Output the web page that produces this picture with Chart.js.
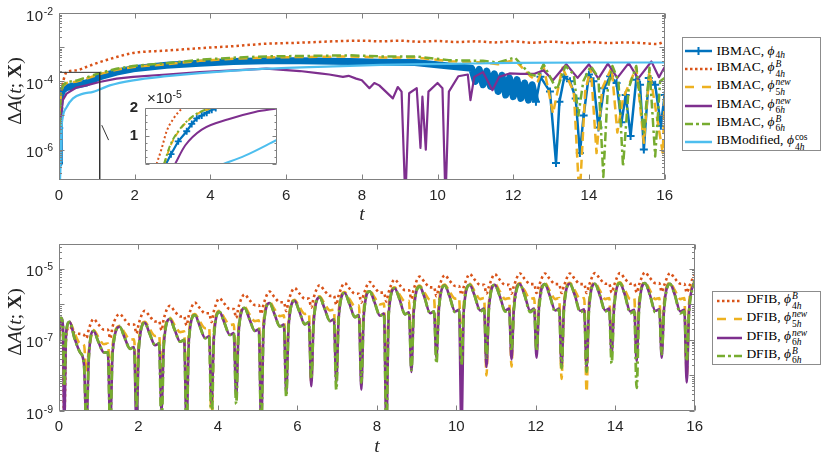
<!DOCTYPE html>
<html>
<head>
<meta charset="utf-8">
<script src="https://cdn.jsdelivr.net/npm/chart.js@4.4.1/dist/chart.umd.min.js"></script>
<style>
html,body{margin:0;padding:0;background:#fff;}
body{width:830px;height:459px;position:relative;overflow:hidden;}
canvas{position:absolute;}
.ylab{position:absolute;transform:translate(-50%,-50%) rotate(-90deg);font-family:"Liberation Serif","DejaVu Serif",serif;font-size:19.5px;white-space:nowrap;color:#262626;}
.xlab{position:absolute;transform:translate(-50%,-50%);font-family:"Liberation Serif","DejaVu Serif",serif;font-style:italic;font-size:19.5px;color:#262626;}
.leg{position:absolute;background:#fff;border:1px solid #8c8c8c;font-family:"Liberation Serif","DejaVu Serif",serif;font-size:13.5px;color:#000;box-sizing:border-box;}
.row{position:absolute;left:0;display:flex;align-items:center;white-space:nowrap;height:18px;}
.row svg{flex:none;margin-right:1px;}
.ss{display:inline-flex;flex-direction:column;font-size:9.5px;line-height:9.5px;vertical-align:4px;margin-left:1px;}
.s1{font-size:9.5px;vertical-align:-3px;margin-left:1px;}
.ytl{position:absolute;font-family:"Liberation Sans",Arial,sans-serif;font-size:15px;line-height:15px;color:#262626;white-space:nowrap;transform:translateX(-100%);letter-spacing:0.5px;}
.ytl sup{font-size:10.5px;position:relative;top:-1px;vertical-align:5px;line-height:0;letter-spacing:0;}
.exp{position:absolute;font-family:"Liberation Sans",Arial,sans-serif;font-size:15px;line-height:15px;color:#262626;white-space:nowrap;}
.exp sup{font-size:10.5px;vertical-align:5px;line-height:0;}
</style>
</head>
<body>
<canvas id="cTop" width="680" height="230" style="left:0;top:0"></canvas>
<canvas id="cBot" width="710" height="229" style="left:0;top:230px"></canvas>
<canvas id="cIns" width="185" height="90" style="left:100px;top:90px"></canvas>
<div class="exp" style="left:147px;top:90px">×10<sup>-5</sup></div>
<div class="ylab" style="left:15px;top:91px">Δ<i>A</i>(<i>t</i>; <b>X</b>)</div>
<div class="ylab" style="left:15px;top:322px">Δ<i>A</i>(<i>t</i>; <b>X</b>)</div>
<div class="xlab" style="left:362px;top:214px">t</div>
<div class="xlab" style="left:377px;top:446px">t</div>
<div id="legTop" class="leg" style="left:682px;top:37px;width:139px;height:114px"></div>
<div id="legBot" class="leg" style="left:712px;top:291px;width:109px;height:74px"></div>
<div id="ylabels"></div>
<script>
// ---------------- DATA: top panel (IBMAC / IBModified), pairs [t, value] ----------------
const ibmac4h = [[0,4.07e-7],[0.005,4.27e-6],[0.01,1.62e-5],[0.05,3.98e-5],[0.1,5.5e-5],[0.2,6.61e-5],[0.46,7.59e-5],[0.72,8.91e-5],[1.07,1.35e-4],[1.52,1.86e-4],[1.96,2.34e-4],[2.84,2.95e-4],[3.72,3.39e-4],[4.6,3.8e-4],[5.48,3.98e-4],[6.36,3.98e-4],[7.68,3.8e-4],[8.5,3.63e-4],[9.4,3.55e-4],[10.3,2.82e-4],[10.9,2.4e-4],[11.0,1.0e-4],[11.1,2.24e-4],[11.2,7.94e-5],[11.3,2.0e-4],[11.4,7.08e-5],[11.5,1.66e-4],[11.6,5.01e-5],[11.7,1.51e-4],[11.8,3.98e-5],[11.9,1.26e-4],[12.0,3.55e-5],[12.1,1.12e-4],[12.2,3.16e-5],[12.3,8.91e-5],[12.4,2.82e-5],[12.5,7.94e-5],[12.6,2.51e-5],[12.72,1.35e-4],[12.97,5.01e-5],[13.13,4.07e-7],[13.22,2.51e-5],[13.35,1.35e-4],[13.5,1.0e-4],[13.65,3.16e-5],[13.76,7.94e-7],[13.86,1.0e-5],[14.0,1.58e-4],[14.12,1.0e-4],[14.25,4.47e-6],[14.4,6.31e-5],[14.56,1.41e-4],[14.73,8.91e-5],[14.86,6.31e-6],[14.97,3.98e-5],[15.1,2.51e-6],[15.25,1.12e-4],[15.35,7.94e-5],[15.45,1.0e-6],[15.58,1.26e-4],[15.75,7.94e-5],[15.9,5.01e-6],[16.0,3.98e-5]];
const ibmac4hB = [[0,3.2e-8],[0.03,1.58e-5],[0.06,4.37e-5],[0.1,8.5e-5],[0.2,1.86e-4],[0.46,2.09e-4],[0.72,2.63e-4],[1.07,3.63e-4],[1.52,5.13e-4],[1.96,6.76e-4],[2.84,7.94e-4],[3.72,9.33e-4],[4.6,1.07e-3],[5.48,1.26e-3],[6.36,1.35e-3],[7.24,1.48e-3],[8,1.55e-3],[8.5,1.48e-3],[9,1.55e-3],[9.5,1.45e-3],[10,1.51e-3],[10.5,1.41e-3],[11,1.48e-3],[11.5,1.38e-3],[12,1.48e-3],[12.5,1.35e-3],[13,1.45e-3],[13.5,1.32e-3],[14,1.41e-3],[14.5,1.32e-3],[15,1.38e-3],[15.5,1.29e-3],[15.8,1.23e-3],[16,1.48e-3]];
const ibmac5hNew = [[0,3.2e-8],[0.02,8.9e-6],[0.05,4.68e-5],[0.1,7.1e-5],[0.2,8.9e-5],[0.46,9.8e-5],[0.72,1.2e-4],[1.07,1.62e-4],[1.52,2.19e-4],[1.96,2.63e-4],[2.84,3.16e-4],[3.72,3.98e-4],[4.6,4.57e-4],[5.48,5.0e-4],[6.36,5.13e-4],[7.7,5.37e-4],[8.5,5.0e-4],[9.4,5.0e-4],[10.3,3.89e-4],[11.2,3.55e-4],[11.6,3.16e-4],[12.04,4.27e-4],[12.45,1.41e-4],[12.65,1.0e-4],[12.8,2.82e-4],[13.05,1.15e-5],[13.3,2.5e-4],[13.6,5.0e-5],[13.75,3.2e-8],[13.9,5.0e-5],[14.05,2.5e-4],[14.2,7.9e-7],[14.35,6.3e-5],[14.6,2.5e-4],[14.75,3.16e-6],[14.9,3.16e-5],[15.25,2.5e-4],[15.45,1.58e-6],[15.6,2.0e-4],[15.95,7.9e-7],[16.0,3.16e-5]];
const ibmac6hNew = [[0,3.2e-8],[0.04,6.3e-6],[0.1,2.82e-5],[0.2,4.37e-5],[0.46,6.61e-5],[0.72,7.59e-5],[1.07,9.55e-5],[1.52,1.2e-4],[1.96,1.35e-4],[2.84,1.58e-4],[3.72,1.86e-4],[4.6,2.09e-4],[5.48,2.34e-4],[6.36,2.0e-4],[6.89,1.7e-4],[7.14,1.58e-4],[7.5,1.35e-4],[7.65,1.45e-4],[7.85,1.2e-4],[8.0,1.07e-4],[8.2,6.3e-5],[8.33,8.9e-5],[8.46,7.6e-5],[8.64,4.9e-5],[8.82,3.16e-5],[8.95,6.8e-5],[9.05,5.0e-5],[9.15,3.2e-8],[9.25,4.47e-5],[9.45,6.3e-5],[9.55,1.12e-6],[9.6,3.55e-5],[9.69,1.0e-6],[9.76,5.0e-5],[10.0,8.9e-5],[10.13,6.3e-5],[10.21,3.2e-8],[10.3,5.0e-5],[10.55,1.41e-4],[10.8,1.58e-4],[10.87,2.82e-5],[10.97,1.35e-4],[11.2,1.86e-4],[11.45,5.5e-5],[11.63,1.35e-4],[11.9,1.7e-4],[12.2,1.66e-4],[12.56,1.66e-4],[12.8,2.09e-4],[13.05,1.07e-4],[13.4,3.16e-4],[13.7,1.26e-4],[14.0,3.16e-4],[14.25,1.2e-4],[14.5,3.3e-4],[14.75,1.26e-4],[15.05,3.4e-4],[15.3,1.2e-4],[15.65,3.8e-4],[15.85,1.32e-4],[16.0,2.63e-4]];
const ibmac6hB = [[0,3.2e-8],[0.02,1.0e-5],[0.05,5.0e-5],[0.1,7.6e-5],[0.2,9.5e-5],[0.46,1.05e-4],[0.72,1.29e-4],[1.07,1.74e-4],[1.52,2.34e-4],[1.96,2.82e-4],[2.84,3.39e-4],[3.72,4.27e-4],[4.6,4.9e-4],[5.48,5.37e-4],[6.36,5.5e-4],[7.7,5.75e-4],[8.5,5.37e-4],[9.4,5.37e-4],[10.3,4.17e-4],[11.2,3.98e-4],[11.6,3.55e-4],[12.04,5.0e-4],[12.45,1.58e-4],[12.65,1.41e-4],[12.8,3.16e-4],[13.15,5.6e-5],[13.38,2.82e-4],[13.6,1.58e-4],[13.72,1.0e-5],[13.85,1.0e-4],[14.05,2.82e-4],[14.25,1.26e-4],[14.38,1.58e-7],[14.5,6.3e-5],[14.62,2.82e-4],[14.78,1.0e-4],[14.9,3.16e-7],[15.05,6.3e-5],[15.25,2.82e-4],[15.45,3.16e-6],[15.6,2.5e-4],[15.75,6.3e-7],[15.88,1.0e-4],[16.0,1.26e-4]];
const ibmodCos4h = [[0,3.2e-8],[0.04,3.16e-7],[0.06,3.02e-6],[0.1,8.9e-6],[0.2,1.74e-5],[0.37,3.16e-5],[0.64,4.37e-5],[0.9,4.9e-5],[1.07,5.75e-5],[1.34,7.59e-5],[1.96,1.07e-4],[2.84,1.41e-4],[3.72,1.74e-4],[5.48,2.34e-4],[7.24,2.75e-4],[8.5,3.02e-4],[10.3,3.24e-4],[12,3.47e-4],[14,3.55e-4],[16,3.55e-4]];
const zoomRect = [[0,1e-8],[0,1.83e-4],[1.075,1.83e-4],[1.075,1e-8]];
const zoomLink = [[1.13,5.2e-6],[1.31,1.9e-6]];
const topYTickVals = [1e-2,1e-4,1e-6];
const topYTickExp = ['-2','-4','-6'];

// ---------------- DATA: inset (linear), pairs [t, value] ----------------
const ins4h = [[0.00795,0],[0.00985,0.35e-5],[0.0126,0.81e-5],[0.0158,1.17e-5],[0.0177,1.43e-5],[0.0196,1.63e-5],[0.0215,1.73e-5],[0.0234,1.83e-5],[0.0253,1.94e-5],[0.0268,2.0e-5],[0.029,2.1e-5]];
const ins4hB = [[0.0044,0],[0.0063,0.55e-5],[0.0082,1.17e-5],[0.011,1.65e-5],[0.0141,2.0e-5],[0.016,2.2e-5]];
const ins5hNew = [[0.0073,0],[0.0097,0.66e-5],[0.0128,1.17e-5],[0.018,1.68e-5],[0.0252,2.0e-5],[0.0285,2.1e-5]];
const ins6hNew = [[0.0114,0],[0.0152,0.66e-5],[0.0215,1.23e-5],[0.0316,1.6e-5],[0.0417,1.86e-5],[0.0499,1.98e-5]];
const ins6hB = [[0.0072,0],[0.0095,0.66e-5],[0.0126,1.17e-5],[0.0177,1.68e-5],[0.0246,2.0e-5],[0.028,2.1e-5]];
const insCos4h = [[0.0297,0],[0.0379,0.3e-5],[0.0499,0.86e-5]];
const insYTickVals = [1e-5,2e-5];
const insYTickLabels = ['1','2'];

// ---------------- DATA: bottom panel (DFIB), shared t ----------------
const tB = [0,0.05,0.1,0.13,0.18,
 0.27,0.39,0.53,0.63,0.69,0.75,
 0.87,0.99,1.13,1.23,1.29,1.35,
 1.53,1.65,1.79,1.89,1.95,2.01,
 2.16,2.28,2.42,2.52,2.58,2.64,
 2.79,2.91,3.05,3.15,3.21,3.27,
 3.42,3.54,3.68,3.78,3.84,3.90,
 4.04,4.16,4.30,4.40,4.46,4.52,
 4.67,4.79,4.93,5.03,5.09,5.15,
 5.30,5.42,5.56,5.66,5.72,5.78,
 5.93,6.05,6.19,6.29,6.35,6.41,
 6.56,6.68,6.82,6.92,6.98,7.04,
 7.19,7.31,7.45,7.55,7.61,7.67,
 7.82,7.94,8.08,8.18,8.24,8.30,
 8.45,8.57,8.71,8.81,8.87,8.93,
 9.08,9.20,9.34,9.44,9.50,9.56,
 9.71,9.83,9.97,10.07,10.13,10.19,
 10.34,10.46,10.60,10.70,10.76,10.82,
 10.97,11.09,11.23,11.33,11.39,11.45,
 11.60,11.72,11.86,11.96,12.02,12.08,
 12.23,12.35,12.49,12.59,12.65,12.71,
 12.86,12.98,13.12,13.22,13.28,13.34,
 13.49,13.61,13.75,13.85,13.91,13.97,
 14.12,14.24,14.38,14.48,14.54,14.60,
 14.75,14.87,15.01,15.11,15.17,15.23,
 15.38,15.50,15.64,15.74,15.80,15.86,
 16.0];
const dfib4hB = [2.51e-7,3.16e-7,1.26e-7,3.2e-10,1.41e-7,
 2.34e-7,1.58e-7,1.48e-7,1.38e-7,1.12e-7,2.0e-7,
 3.89e-7,2.75e-7,1.95e-7,1.95e-7,1.1e-7,2.4e-7,
 5.37e-7,3.8e-7,2.69e-7,2.69e-7,1.51e-7,2.95e-7,
 6.61e-7,4.68e-7,3.31e-7,3.31e-7,1.86e-7,4.07e-7,
 9.12e-7,6.46e-7,4.57e-7,4.57e-7,2.57e-7,5.01e-7,
 1.12e-6,7.94e-7,5.62e-7,5.62e-7,3.16e-7,6.61e-7,
 1.48e-6,1.05e-6,7.41e-7,7.41e-7,4.17e-7,8.51e-7,
 1.91e-6,1.35e-6,9.55e-7,9.55e-7,5.37e-7,1.02e-6,
 2.29e-6,1.62e-6,1.15e-6,1.15e-6,6.46e-7,1.29e-6,
 2.88e-6,2.04e-6,1.45e-6,1.45e-6,8.13e-7,1.55e-6,
 3.47e-6,2.45e-6,1.74e-6,1.74e-6,9.77e-7,1.78e-6,
 3.98e-6,2.82e-6,2.0e-6,2.0e-6,1.12e-6,1.91e-6,
 4.27e-6,3.02e-6,2.14e-6,2.14e-6,1.2e-6,2.24e-6,
 5.01e-6,3.55e-6,2.51e-6,2.51e-6,1.41e-6,2.69e-6,
 6.03e-6,4.27e-6,3.02e-6,3.02e-6,1.7e-6,2.95e-6,
 6.61e-6,4.68e-6,3.31e-6,3.31e-6,1.86e-6,3.16e-6,
 7.08e-6,5.01e-6,3.55e-6,3.55e-6,2.0e-6,3.16e-6,
 7.08e-6,5.01e-6,3.55e-6,3.55e-6,2.0e-6,3.31e-6,
 7.41e-6,5.25e-6,3.72e-6,3.72e-6,2.09e-6,3.31e-6,
 7.41e-6,5.25e-6,3.72e-6,3.72e-6,2.09e-6,3.31e-6,
 7.41e-6,5.25e-6,3.72e-6,3.72e-6,2.09e-6,3.39e-6,
 7.59e-6,5.37e-6,3.8e-6,3.8e-6,2.14e-6,3.39e-6,
 7.59e-6,5.37e-6,3.8e-6,3.8e-6,2.14e-6,3.55e-6,
 7.94e-6,5.62e-6,3.98e-6,3.98e-6,2.24e-6,3.39e-6,
 7.59e-6,5.37e-6,3.8e-6,3.8e-6,2.14e-6,3.16e-6,
 7.08e-6];
const dfib5hNew = [1.26e-7,3.55e-7,2.24e-7,1.58e-8,1.41e-7,
 3.16e-7,1.58e-7,7.94e-8,7.08e-8,1.26e-8,5.01e-8,
 1.91e-7,1.2e-7,7.59e-8,7.94e-8,1.0e-8,7.41e-8,
 2.51e-7,1.58e-7,1.0e-7,1.05e-7,5.01e-9,9.55e-8,
 3.24e-7,2.04e-7,1.29e-7,1.35e-7,1.0e-8,1.23e-7,
 4.17e-7,2.63e-7,1.66e-7,1.74e-7,2.51e-9,1.58e-7,
 5.37e-7,3.39e-7,2.14e-7,2.24e-7,3.2e-10,1.95e-7,
 6.61e-7,4.17e-7,2.63e-7,2.75e-7,6.31e-9,2.51e-7,
 8.51e-7,5.37e-7,3.39e-7,3.55e-7,3.98e-9,3.47e-7,
 1.17e-6,7.41e-7,4.68e-7,4.9e-7,1.0e-8,3.98e-7,
 1.35e-6,8.51e-7,5.37e-7,5.62e-7,6.31e-9,5.01e-7,
 1.7e-6,1.07e-6,6.76e-7,7.08e-7,1.0e-8,6.61e-7,
 2.24e-6,1.41e-6,8.91e-7,9.33e-7,1.26e-8,7.41e-7,
 2.51e-6,1.58e-6,1.0e-6,1.05e-6,3.16e-9,8.91e-7,
 3.02e-6,1.91e-6,1.2e-6,1.26e-6,3.16e-8,1.0e-6,
 3.39e-6,2.14e-6,1.35e-6,1.41e-6,5.62e-8,1.07e-6,
 3.63e-6,2.29e-6,1.45e-6,1.51e-6,3.98e-8,1.12e-6,
 3.8e-6,2.4e-6,1.41e-6,1.51e-6,1.0e-8,1.12e-6,
 3.8e-6,2.4e-6,1.41e-6,1.51e-6,1.78e-8,1.12e-6,
 3.98e-6,2.45e-6,1.41e-6,1.51e-6,5.01e-8,1.12e-6,
 3.98e-6,2.45e-6,1.41e-6,1.51e-6,7.94e-9,1.12e-6,
 4.07e-6,2.5e-6,1.41e-6,1.51e-6,3.47e-9,1.12e-6,
 4.07e-6,2.5e-6,1.41e-6,1.51e-6,5.01e-8,1.12e-6,
 4.17e-6,2.55e-6,1.41e-6,1.51e-6,3.16e-8,1.12e-6,
 4.17e-6,2.55e-6,1.41e-6,1.51e-6,6.31e-8,1.12e-6,
 4.07e-6,2.5e-6,1.41e-6,1.51e-6,1.0e-8,1.12e-6,
 4.47e-6];
const dfib6hNew = [8.0e-8,4.17e-7,2.51e-7,3.2e-10,1.58e-7,
 3.24e-7,1.12e-7,4.47e-8,2.0e-8,3.2e-10,3.16e-8,
 1.78e-7,8.9e-8,4.47e-8,4.47e-8,3.2e-10,4.68e-8,
 2.34e-7,1.17e-7,5.62e-8,6.31e-8,3.2e-10,6.03e-8,
 3.02e-7,1.51e-7,7.08e-8,7.94e-8,1.0e-9,7.76e-8,
 3.89e-7,1.95e-7,8.91e-8,1.0e-7,3.2e-10,1.0e-7,
 5.01e-7,2.51e-7,1.12e-7,1.26e-7,1.58e-9,1.23e-7,
 6.17e-7,3.09e-7,1.38e-7,1.55e-7,2.51e-9,1.58e-7,
 7.94e-7,3.98e-7,1.78e-7,2.0e-7,3.2e-10,2.19e-7,
 1.1e-6,5.5e-7,2.4e-7,2.69e-7,3.16e-9,2.51e-7,
 1.26e-6,6.31e-7,2.75e-7,3.16e-7,5.01e-9,3.16e-7,
 1.58e-6,7.94e-7,3.39e-7,3.8e-7,6.31e-9,4.17e-7,
 2.09e-6,1.05e-6,4.37e-7,5.01e-7,3.98e-9,4.68e-7,
 2.34e-6,1.17e-6,4.79e-7,5.5e-7,3.2e-10,5.62e-7,
 2.82e-6,1.41e-6,5.25e-7,6.03e-7,1.26e-8,6.31e-7,
 3.16e-6,1.58e-6,5.62e-7,6.31e-7,3.16e-8,6.76e-7,
 3.39e-6,1.7e-6,6.31e-7,7.08e-7,3.2e-10,7.08e-7,
 3.55e-6,1.78e-6,6.76e-7,7.59e-7,1.74e-8,7.59e-7,
 3.55e-6,1.78e-6,6.76e-7,7.59e-7,2.82e-8,7.59e-7,
 3.72e-6,1.82e-6,6.61e-7,7.59e-7,3.16e-8,7.59e-7,
 3.72e-6,1.82e-6,6.76e-7,7.59e-7,1.74e-8,7.59e-7,
 3.8e-6,1.86e-6,6.61e-7,7.24e-7,1.58e-8,7.59e-7,
 3.8e-6,1.86e-6,6.76e-7,7.59e-7,3.98e-8,7.59e-7,
 3.98e-6,1.91e-6,6.31e-7,7.08e-7,2.51e-8,7.59e-7,
 3.98e-6,1.91e-6,6.61e-7,7.24e-7,3.16e-8,7.59e-7,
 3.8e-6,1.86e-6,6.31e-7,7.08e-7,6.31e-9,6.76e-7,
 4.47e-6];
const dfib6hB = [1.0e-7,4.17e-7,2.51e-7,5.0e-9,1.58e-7,
 3.24e-7,1.12e-7,4.47e-8,2.0e-8,3.2e-10,3.16e-8,
 1.78e-7,8.9e-8,4.47e-8,4.47e-8,3.2e-10,4.68e-8,
 2.34e-7,1.17e-7,5.62e-8,6.31e-8,1.26e-9,6.03e-8,
 3.02e-7,1.51e-7,7.08e-8,7.94e-8,3.2e-10,7.76e-8,
 3.89e-7,1.95e-7,8.91e-8,1.0e-7,3.2e-10,1.0e-7,
 5.01e-7,2.51e-7,1.12e-7,1.26e-7,3.2e-10,1.23e-7,
 6.17e-7,3.09e-7,1.38e-7,1.55e-7,1.58e-9,1.58e-7,
 7.94e-7,3.98e-7,1.78e-7,2.0e-7,3.2e-10,2.19e-7,
 1.1e-6,5.5e-7,2.4e-7,2.69e-7,2.51e-9,2.51e-7,
 1.26e-6,6.31e-7,2.75e-7,3.16e-7,7.94e-9,3.16e-7,
 1.58e-6,7.94e-7,3.39e-7,3.8e-7,3.98e-9,4.17e-7,
 2.09e-6,1.05e-6,4.37e-7,5.01e-7,6.31e-9,4.68e-7,
 2.34e-6,1.17e-6,4.79e-7,5.5e-7,3.2e-10,5.62e-7,
 2.82e-6,1.41e-6,5.25e-7,6.03e-7,1.41e-8,6.31e-7,
 3.16e-6,1.58e-6,5.62e-7,6.31e-7,2.19e-8,6.76e-7,
 3.39e-6,1.7e-6,6.03e-7,6.76e-7,2.0e-8,7.08e-7,
 3.55e-6,1.78e-6,6.31e-7,7.08e-7,3.16e-8,7.08e-7,
 3.55e-6,1.78e-6,6.31e-7,7.08e-7,5.01e-8,7.08e-7,
 3.72e-6,1.82e-6,6.03e-7,7.08e-7,5.01e-8,7.08e-7,
 3.72e-6,1.82e-6,6.31e-7,7.08e-7,1.58e-8,7.08e-7,
 3.8e-6,1.86e-6,6.03e-7,6.76e-7,1.26e-8,7.08e-7,
 3.8e-6,1.86e-6,6.31e-7,7.08e-7,2.19e-8,7.08e-7,
 3.98e-6,1.91e-6,5.62e-7,6.31e-7,4.47e-9,7.08e-7,
 3.98e-6,1.91e-6,6.03e-7,6.76e-7,3.98e-8,7.08e-7,
 3.8e-6,1.86e-6,5.62e-7,6.31e-7,2.51e-8,6.31e-7,
 4.47e-6];
const botYTickVals = [1e-5,1e-7,1e-9];
const botYTickExp = ['-5','-7','-9'];
const xTickStep = 2;

// ---------------- legend text ----------------
const topLegNames = ['IBMAC','IBMAC','IBMAC','IBMAC','IBMAC','IBModified'];
const topLegSub = ['4<i>h</i>','4<i>h</i>','5<i>h</i>','6<i>h</i>','6<i>h</i>','4<i>h</i>'];
const topLegSup = ['','<i>B</i>','<i>new</i>','<i>new</i>','<i>B</i>','cos'];
const botLegNames = ['DFIB','DFIB','DFIB','DFIB'];
const botLegSub = ['4<i>h</i>','5<i>h</i>','6<i>h</i>','6<i>h</i>'];
const botLegSup = ['<i>B</i>','<i>new</i>','<i>new</i>','<i>B</i>'];

// ---------------- styles ----------------
const C = {blue:'#0072BD', orange:'#D95319', yellow:'#EDB120', purple:'#7E2F8E', green:'#77AC30', cyan:'#4DBEEE'};
const DOT=[2.5,3], DASH=[9,5], DASHDOT=[9,3.5,2.5,3.5];

const pts = a => a.map(p => ({x:p[0], y:p[1]}));
const ptsT = v => tB.map((t,i) => ({x:t, y:v[i]}));
const isDecade = v => Math.abs(Math.log10(v) - Math.round(Math.log10(v))) < 1e-6;

const framePlugin = {
  id:'frame',
  beforeDatasetsDraw(chart, args, o){
    if(!o.bg) return;
    const a = chart.chartArea, ctx = chart.ctx;
    ctx.save(); ctx.fillStyle = o.bg; ctx.fillRect(a.left,a.top,a.right-a.left,a.bottom-a.top); ctx.restore();
  },
  afterDatasetsDraw(chart, args, o){
    const {ctx, chartArea:a} = chart; const xs = chart.scales.x, ys = chart.scales.y;
    ctx.save(); ctx.strokeStyle = '#808080'; ctx.lineWidth = 1; ctx.beginPath();
    const L=Math.round(a.left)+0.5, R=Math.round(a.right)-0.5, T=Math.round(a.top)+0.5, B=Math.round(a.bottom)-0.5;
    ctx.rect(L,T,R-L,B-T);
    if(o.xTicks){ for(const t of xs.ticks){ const p=Math.round(xs.getPixelForValue(t.value))+0.5; ctx.moveTo(p,B); ctx.lineTo(p,B-o.major); ctx.moveTo(p,T); ctx.lineTo(p,T+o.major);} }
    for(const t of ys.ticks){
      const p=Math.round(ys.getPixelForValue(t.value))+0.5;
      let major;
      if(o.log) major = isDecade(t.value); else major = Math.abs(t.value/1e-5 - Math.round(t.value/1e-5)) < 1e-6;
      const len = major ? o.major : o.minor;
      ctx.moveTo(L,p); ctx.lineTo(L+len,p); ctx.moveTo(R,p); ctx.lineTo(R-len,p);
    }
    ctx.stroke(); ctx.restore();
  }
};

function logTickList(min,max){
  const out=[];
  for(let e=Math.floor(Math.log10(min)); e<=Math.ceil(Math.log10(max)); e++){
    for(let m=1;m<10;m++){ const v=m*Math.pow(10,e); if(v>=min*0.9999 && v<=max*1.0001) out.push({value:v}); }
  }
  return out;
}
const tickFont = {family:'"Liberation Sans", Arial, sans-serif', size:15};
const tickColor = '#262626';

function baseOpts(yMin,yMax,padTop,padRight,yW,xH){
  return {
    responsive:false, animation:false, devicePixelRatio:1,
    layout:{padding:{top:padTop,right:padRight,left:0,bottom:0}},
    plugins:{legend:{display:false}, tooltip:{enabled:false}, frame:{xTicks:true, log:true, major:5, minor:2.5}},
    elements:{point:{radius:0}, line:{borderCapStyle:'butt', borderJoinStyle:'round'}},
    scales:{
      x:{type:'linear', min:0, max:16, grid:{display:false, drawTicks:false}, border:{display:false},
         ticks:{stepSize:xTickStep, padding:7, font:tickFont, color:tickColor, maxRotation:0},
         afterFit:s=>{s.height=xH;}},
      y:{type:'logarithmic', min:yMin, max:yMax, grid:{display:false, drawTicks:false}, border:{display:false},
         ticks:{display:false},
         afterBuildTicks:s=>{s.ticks=logTickList(yMin,yMax);},
         afterFit:s=>{s.width=yW;}}
    }
  };
}

// HTML y tick labels placed with the library's own scale
function addYLabels(chart, vals, exps, offTop){
  const host = document.getElementById('ylabels');
  const ys = chart.scales.y;
  vals.forEach((v,i)=>{
    const py = ys.getPixelForValue(v) + offTop;
    const d = document.createElement('div');
    d.className='ytl';
    d.style.left = (ys.right - 6) + 'px';
    d.style.top = (py + 2 - 7.5) + 'px';
    d.innerHTML = '10<sup>' + exps[i] + '</sup>';
    host.appendChild(d);
  });
}

// ---------------- top chart ----------------
const topChart = new Chart(document.getElementById('cTop'), {
  type:'line',
  data:{datasets:[
    {data:pts(ibmac4h), borderColor:C.blue, borderWidth:2.5, order:6,
     segment:{borderWidth:c=>c.p0.parsed.x<12.6?7:2.5},
     pointStyle:'cross', pointBorderColor:C.blue, pointBorderWidth:2,
     pointRadius:c=>{const x=c.raw?c.raw.x:0; return (x>=12.6||x<0.03)?4:0;}},
    {data:pts(ibmac4hB), borderColor:C.orange, borderWidth:2.5, borderDash:DOT, order:5, cubicInterpolationMode:'monotone'},
    {data:pts(ibmac5hNew), borderColor:C.yellow, borderWidth:2.5, borderDash:DASH, order:4},
    {data:pts(ibmac6hNew), borderColor:C.purple, borderWidth:2.2, order:3},
    {data:pts(ibmac6hB), borderColor:C.green, borderWidth:2.5, borderDash:DASHDOT, order:2},
    {data:pts(ibmodCos4h), borderColor:C.cyan, borderWidth:2.2, order:1, cubicInterpolationMode:'monotone'},
    {data:pts(zoomRect), borderColor:'#333333', borderWidth:1, order:0},
    {data:pts(zoomLink), borderColor:'#333333', borderWidth:1, order:0}
  ]},
  options:baseOpts(1.29e-7,1e-2,13,15,59,50),
  plugins:[framePlugin]
});
addYLabels(topChart, topYTickVals, topYTickExp, 0);

// ---------------- inset ----------------
(function(){
  const o = {
    responsive:false, animation:false, devicePixelRatio:1,
    layout:{padding:{top:18,right:8,left:0,bottom:0}},
    plugins:{legend:{display:false}, tooltip:{enabled:false}, frame:{xTicks:false, log:false, major:4, minor:2, bg:'#ffffff'}},
    elements:{point:{radius:0}, line:{borderCapStyle:'butt'}},
    scales:{
      x:{type:'linear', min:0, max:0.05, grid:{display:false, drawTicks:false}, border:{display:false}, ticks:{display:false}, afterFit:s=>{s.height=7;}},
      y:{type:'linear', min:0, max:2e-5, grid:{display:false, drawTicks:false}, border:{display:false},
         ticks:{autoSkip:false, padding:7, font:{family:'"Liberation Sans", Arial, sans-serif', size:15, weight:'bold'}, color:tickColor,
           callback:v=>{const i=insYTickVals.findIndex(u=>Math.abs(u-v)<1e-9); return i>=0?insYTickLabels[i]:'';}},
         afterBuildTicks:s=>{const a=[]; for(let k=0;k<=8;k++) a.push({value:k*0.25e-5}); s.ticks=a;},
         afterFit:s=>{s.width=45;}}
    }
  };
  new Chart(document.getElementById('cIns'), {
    type:'line',
    data:{datasets:[
      {data:pts(ins4h), borderColor:C.blue, borderWidth:2.2, order:6, pointStyle:'cross', pointRadius:3.5, pointBorderWidth:1.8, pointBorderColor:C.blue},
      {data:pts(ins4hB), borderColor:C.orange, borderWidth:2, borderDash:[2,2.5], order:5, cubicInterpolationMode:'monotone'},
      {data:pts(ins5hNew), borderColor:C.yellow, borderWidth:2, borderDash:[6,4], order:4, cubicInterpolationMode:'monotone'},
      {data:pts(ins6hNew), borderColor:C.purple, borderWidth:2, order:3, cubicInterpolationMode:'monotone'},
      {data:pts(ins6hB), borderColor:C.green, borderWidth:2, borderDash:[6,2.5,2,2.5], order:2, cubicInterpolationMode:'monotone'},
      {data:pts(insCos4h), borderColor:C.cyan, borderWidth:2, order:1, cubicInterpolationMode:'monotone'}
    ]},
    options:o, plugins:[framePlugin]
  });
})();

// ---------------- bottom chart ----------------
const botChart = new Chart(document.getElementById('cBot'), {
  type:'line',
  data:{datasets:[
    {data:ptsT(dfib4hB), borderColor:C.orange, borderWidth:2.6, borderDash:DOT, order:4, cubicInterpolationMode:'monotone'},
    {data:ptsT(dfib5hNew), borderColor:C.yellow, borderWidth:2.6, borderDash:DASH, order:3, cubicInterpolationMode:'monotone'},
    {data:ptsT(dfib6hNew), borderColor:C.purple, borderWidth:2.6, order:2, cubicInterpolationMode:'monotone'},
    {data:ptsT(dfib6hB), borderColor:C.green, borderWidth:2.8, borderDash:DASHDOT, order:1, cubicInterpolationMode:'monotone'}
  ]},
  options:baseOpts(1e-9,5.01e-5,14,15,59,48),
  plugins:[framePlugin]
});
addYLabels(botChart, botYTickVals, botYTickExp, 230);

// ---------------- legends (HTML, real text) ----------------
function sw(color, dash, width, cross, w){
  const d = dash ? ` stroke-dasharray="${dash.join(' ')}"` : '';
  const c = cross ? `<path d="M${w/2-4} 6 H${w/2+4} M${w/2} 2 V10" stroke="${color}" stroke-width="2"/>` : '';
  return `<svg width="${w}" height="12"><line x1="0" y1="6" x2="${w}" y2="6" stroke="${color}" stroke-width="${width}"${d}/>${c}</svg>`;
}
function phi(sub, sup){
  if(!sup) return `<i>ϕ</i><span class="s1">${sub}</span>`;
  return `<i>ϕ</i><span class="ss"><span>${sup}</span><span>${sub}</span></span>`;
}
function buildLegend(el, names, subs, sups, styles, w, left, top0, step){
  let h='';
  names.forEach((n,i)=>{
    const s=styles[i];
    h += `<div class="row" style="left:${left}px;top:${top0+i*step-9}px">${sw(s[0],s[1],s[2],s[3],w)}<span>&nbsp;${n}, ${phi(subs[i],sups[i])}</span></div>`;
  });
  el.innerHTML=h;
}
buildLegend(document.getElementById('legTop'), topLegNames, topLegSub, topLegSup,
  [[C.blue,null,2.5,true],[C.orange,[2.5,2.5],2.5,false],[C.yellow,[9,8],2.5,false],[C.purple,null,2.5,false],[C.green,[8,3,3,3],2.5,false],[C.cyan,null,2.5,false]],
  27, 2, 13, 18.2);
buildLegend(document.getElementById('legBot'), botLegNames, botLegSub, botLegSup,
  [[C.orange,[2.5,2.5],2.5,false],[C.yellow,[9,8],2.5,false],[C.purple,null,2.5,false],[C.green,[8,3,3,3],2.5,false]],
  25, 4, 9, 18.3);
</script>
</body>
</html>
